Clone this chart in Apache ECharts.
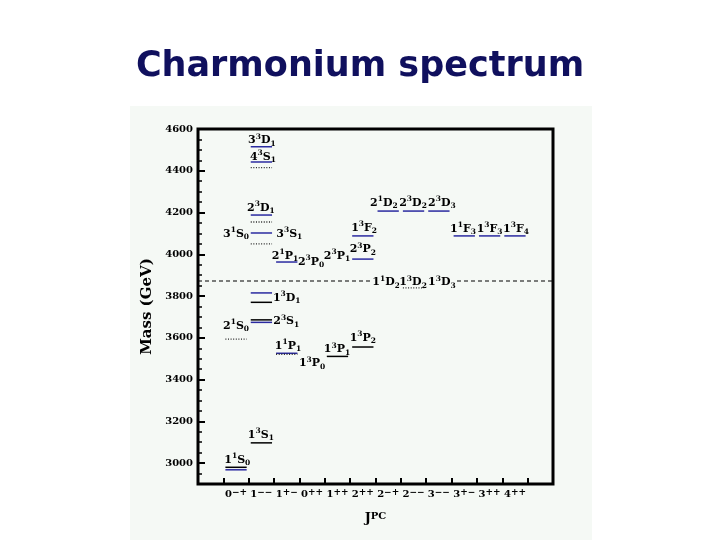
<!DOCTYPE html>
<html><head><meta charset="utf-8">
<script src="https://cdn.jsdelivr.net/npm/echarts@6/dist/echarts.min.js"></script>
<style>html,body{margin:0;padding:0;background:#fff}#c{width:720px;height:540px}</style>
</head><body><div id="c"></div>
<script>
// ---- data ----
const jpcLabels = ['0−+','1−−','1+−','0++','1++','2++','2−+','2−−','3−−','3+−','3++','4++'];
const massTicks = [3000,3200,3400,3600,3800,4000,4200,4400,4600];
const thresholdMass = 3872;
// column index: band i of 14 (band 0 and 13 are empty margins)
const theoryCol  = [2,2,2,2,2,2,1,3,3,6,6,7,8,9,10,11,12];
const theoryMass = [4515,4442,4188,4102,3815,3674,2968,3963,3526,3977,4088,4207,4207,4207,4088,4088,4088];
const exptCol  = [1,2,2,2,5,6];
const exptMass = [2980,3097,3686,3770,3511,3556];
const dottedCol  = [1,2,2,2,8,3];
const dottedMass = [3594,4050,4155,4415,3839,3521];
const labelText = ['3^3D_1','4^3S_1','2^3D_1','3^1S_0','3^3S_1','2^1P_1','2^3P_0','2^3P_1','2^3P_2','1^3F_2',
  '2^1D_2','2^3D_2','2^3D_3','1^1F_3','1^3F_3','1^3F_4','1^1D_2','1^3D_2','1^3D_3','1^3D_1',
  '2^1S_0','2^3S_1','1^1P_1','1^3P_0','1^3P_1','1^3P_2','1^3S_1','1^1S_0'];
const labelX = [2.52,2.56,2.48,1.5,3.6,3.43,4.46,5.48,6.5,6.55,
  7.33,8.48,9.62,10.45,11.5,12.54,7.42,8.48,9.62,3.5,
  1.5,3.48,3.55,4.5,5.48,6.5,2.48,1.55];
const labelMass = [4547,4466,4222,4097,4097,3992,3963,3992,4025,4126,
  4246,4246,4246,4121,4121,4121,3867,3867,3867,3791,
  3657,3680,3561,3479,3546,3599,3135,3015];

// ---- styling ----
const SERIF = '"DejaVu Serif", serif';
const BG = '#f5f9f5';
const BLUE = '#2a2aa0';
function toRich(s){ return s.replace(/\^(.)/g,'{sup|$1}').replace(/_(.)/g,'{sub|$1}'); }
const richLevel = {
  sup:{fontSize:7.5,fontWeight:'bold',fontFamily:SERIF,fill:'#000',verticalAlign:'top',lineHeight:8},
  sub:{fontSize:7.5,fontWeight:'bold',fontFamily:SERIF,fill:'#000',verticalAlign:'bottom',lineHeight:8}
};
function levelSeries(cols, masses, color, dash, width){
  return {
    type:'custom', xAxisIndex:0, yAxisIndex:0, z:5, silent:true,
    data: cols.map((c,i)=>[c, masses[i]]),
    renderItem(params, api){
      const c = api.value(0), m = api.value(1);
      const a = api.coord([c+0.08, m]), b = api.coord([c+0.92, m]);
      return {type:'line', shape:{x1:a[0],y1:a[1],x2:b[0],y2:b[1]},
        style:{stroke:color, lineWidth:width, lineDash:dash, fill:null}};
    }
  };
}

const chart = echarts.init(document.getElementById('c'), null, {renderer:'canvas'});
chart.setOption({
  animation:false,
  backgroundColor:'#fff',
  title:{text:'Charmonium spectrum', left:'center', top:44,
    textStyle:{fontFamily:'"DejaVu Sans", sans-serif', fontWeight:'bold', fontSize:35, color:'#10105e'}},
  graphic:[{type:'rect', z:-10, silent:true, shape:{x:130,y:106,width:462,height:434}, style:{fill:BG}}],
  grid:{left:198, right:167, top:129, bottom:56, show:true, borderColor:'#000', borderWidth:3, backgroundColor:'transparent'},
  xAxis:[
    {type:'value', position:'bottom', min:0, max:14, interval:1,
      axisLine:{show:false}, splitLine:{show:false}, axisLabel:{show:false},
      axisTick:{inside:true, length:6, lineStyle:{color:'#000', width:2}}},
    {type:'category', position:'bottom', boundaryGap:true, data:['', ...jpcLabels, ''],
      axisLine:{show:false}, axisTick:{show:false}, splitLine:{show:false},
      axisLabel:{interval:0, margin:4, fontFamily:SERIF, fontWeight:'bold', fontSize:10, color:'#000', lineHeight:12,
        formatter:v=> v ? v[0]+'{sup|'+v.slice(1)+'}' : '',
        rich:{sup:{fontSize:9, fontWeight:'bold', fontFamily:SERIF, color:'#000', verticalAlign:'top', lineHeight:8}}},
      name:'J{sup|PC}', nameLocation:'middle', nameGap:27,
      nameTextStyle:{fontFamily:SERIF, fontWeight:'bold', fontSize:13, color:'#000', lineHeight:16,
        rich:{sup:{fontSize:10, fontWeight:'bold', fontFamily:SERIF, color:'#000', verticalAlign:'top', lineHeight:10}}}}
  ],
  yAxis:[
    {type:'value', position:'left', min:2900, max:4600,
      axisLine:{show:false}, splitLine:{show:false},
      axisTick:{inside:true, length:7, customValues:massTicks, lineStyle:{color:'#000', width:2}},
      axisLabel:{customValues:massTicks, margin:5, fontFamily:SERIF, fontWeight:'bold', fontSize:10, color:'#000',
        formatter:v=>String(v)},
      name:'Mass (GeV)', nameLocation:'middle', nameGap:43,
      nameTextStyle:{fontFamily:SERIF, fontWeight:'bold', fontSize:15, color:'#000'}},
    {type:'value', position:'left', min:2900, max:4600, interval:50,
      axisLine:{show:false}, splitLine:{show:false}, axisLabel:{show:false},
      axisTick:{inside:true, length:4, lineStyle:{color:'#000', width:1.5}}}
  ],
  series:[
    {type:'line', xAxisIndex:0, yAxisIndex:0, z:1, silent:true, symbol:'none',
      data:[[0,thresholdMass],[14,thresholdMass]],
      lineStyle:{color:'#000', width:1.2, type:[4,3]}},
    {type:'custom', xAxisIndex:0, yAxisIndex:0, z:3, silent:true,
      data: labelX.map((x,i)=>[x, labelMass[i]]),
      renderItem(params, api){
        const m = api.value(1);
        const p = api.coord([api.value(0), m]);
        const onThr = Math.abs(m - thresholdMass) < 25;
        return {type:'text', x:p[0], y:p[1], style:{
          text: toRich(labelText[params.dataIndex]), rich: richLevel,
          fontSize:11, fontWeight:'bold', fontFamily:SERIF, fill:'#000', lineHeight:15,
          align:'center', verticalAlign:'middle',
          backgroundColor: onThr ? BG : null, padding: 0}};
      }},
    levelSeries(theoryCol, theoryMass, BLUE, null, 1.5),
    levelSeries(exptCol, exptMass, '#000', null, 1.5),
    levelSeries(dottedCol, dottedMass, '#222', [1,1.6], 1.4)
  ]
});
</script>
</body></html>
